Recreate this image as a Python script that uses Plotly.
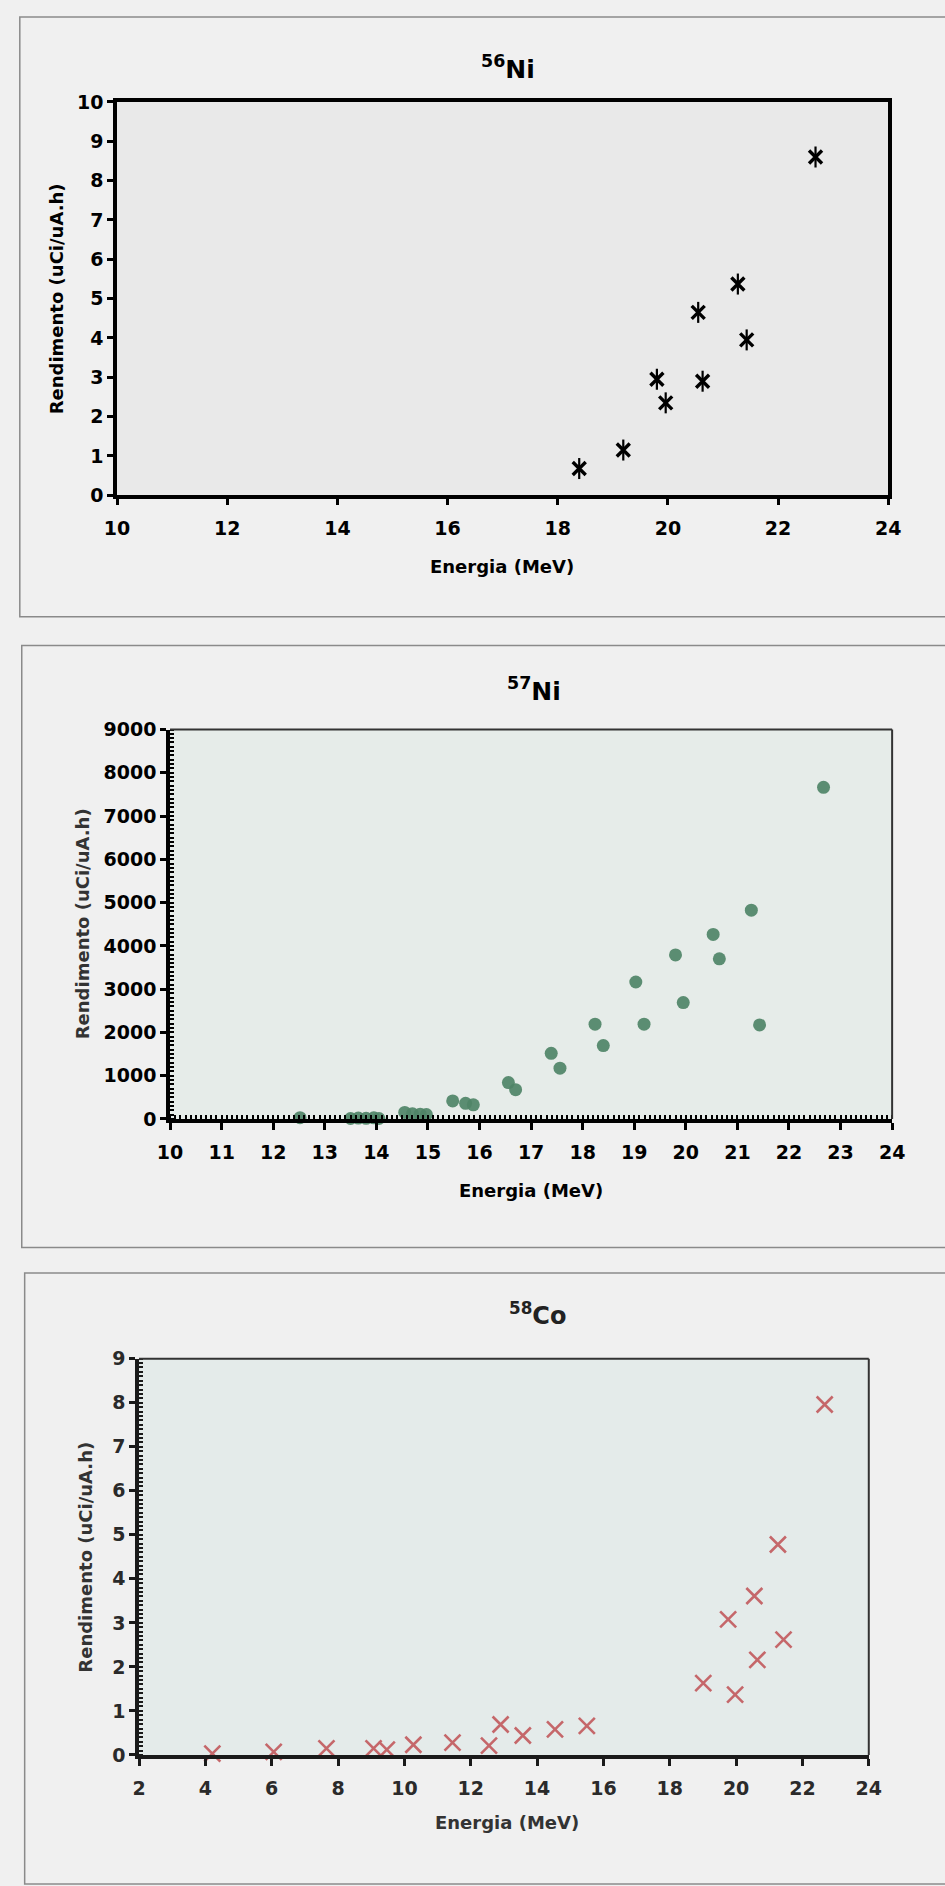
import plotly.graph_objects as go

# ---------------- data ----------------
energia_56 = [18.39, 19.19, 19.80, 19.96, 20.55, 20.63, 21.27, 21.43, 22.68]
rend_56 = [0.68, 1.15, 2.95, 2.35, 4.65, 2.90, 5.37, 3.95, 8.60]

energia_57 = [12.52, 13.50, 13.65, 13.80, 13.95, 14.05, 14.55, 14.70, 14.85, 14.97,
              15.48, 15.73, 15.88, 16.56, 16.70, 17.39, 17.56, 18.24, 18.40, 19.03,
              19.19, 19.80, 19.95, 20.53, 20.65, 21.27, 21.43, 22.67]
rend_57 = [30, 10, 20, 15, 25, 10, 150, 120, 110, 100,
           415, 360, 325, 840, 676, 1515, 1172, 2190, 1695, 3165,
           2190, 3790, 2690, 4265, 3700, 4824, 2173, 7665]

energia_58 = [4.21, 6.06, 7.65, 9.07, 9.47, 10.27, 11.45, 12.55, 12.90, 13.57,
              14.54, 15.50, 19.01, 19.76, 19.97, 20.55, 20.64, 21.26, 21.43, 22.67]
rend_58 = [0.03, 0.07, 0.15, 0.15, 0.12, 0.23, 0.28, 0.21, 0.69, 0.44,
           0.58, 0.66, 1.63, 3.08, 1.37, 3.61, 2.16, 4.78, 2.62, 7.96]

titles = ["<sup>56</sup>Ni", "<sup>57</sup>Ni", "<sup>58</sup>Co"]
x_title = "Energia (MeV)"
y_title = "Rendimento (uCi/uA.h)"

W, H = 945, 1886
FONT = "DejaVu Sans"


def px(x):
    return x / W


def py(y):
    return 1 - y / H


fig = go.Figure()

# plot-area pixel boxes (left, right, top, bottom)
boxes = [
    (107, 900, 92, 490),
    (161.5, 904, 727, 1121),
    (129.6, 880, 1363.6, 1764.5),
]

# Excel-style "*" marker: an X plus a vertical stroke
fig.add_trace(go.Scatter(
    x=energia_56, y=rend_56, mode="markers", xaxis="x", yaxis="y",
    marker=dict(symbol="x-thin-open", size=13, color="black",
                line=dict(color="black", width=3.4)),
    cliponaxis=False, showlegend=False))
fig.add_trace(go.Scatter(
    x=energia_56, y=rend_56, mode="markers", xaxis="x", yaxis="y",
    marker=dict(symbol="line-ns-open", size=15, color="black",
                line=dict(color="black", width=2.2)),
    cliponaxis=False, showlegend=False, hoverinfo="skip"))

fig.add_trace(go.Scatter(
    x=energia_57, y=rend_57, mode="markers", xaxis="x2", yaxis="y2",
    marker=dict(symbol="circle", size=13, color="#4f8467", opacity=0.92,
                line=dict(width=0)),
    cliponaxis=False, showlegend=False))

fig.add_trace(go.Scatter(
    x=energia_58, y=rend_58, mode="markers", xaxis="x3", yaxis="y3",
    marker=dict(symbol="x-thin-open", size=16, color="#c5676a",
                line=dict(color="#c5676a", width=2.6)),
    cliponaxis=False, showlegend=False))


def tf(size, color):
    return dict(family=FONT, size=size, color=color, weight="bold")


layout = dict(
    width=W, height=H,
    margin=dict(l=0, r=0, t=0, b=0),
    paper_bgcolor="#f0f0f0",
    plot_bgcolor="rgba(0,0,0,0)",
    font=dict(family=FONT, color="black"),
    showlegend=False,
)

# Chart 1 axes
l, r, t, b = boxes[0]
layout["xaxis"] = dict(domain=[px(l), px(r)], anchor="y", range=[10, 24], dtick=2,
                       showgrid=False, zeroline=False, showline=True, linewidth=3.5,
                       linecolor="black", mirror=True, ticks="outside", ticklen=6,
                       tickwidth=3, tickcolor="black", tickfont=tf(19, "black"),
                       ticklabelstandoff=7)
layout["yaxis"] = dict(domain=[py(b), py(t)], anchor="x", range=[0, 10], dtick=1,
                       showgrid=False, zeroline=False, showline=True, linewidth=3.5,
                       linecolor="black", mirror=True, ticks="outside", ticklen=6,
                       tickwidth=3, tickcolor="black", tickfont=tf(19, "black"))

# Chart 2 axes
l, r, t, b = boxes[1]
layout["xaxis2"] = dict(domain=[px(l), px(r)], anchor="y2", range=[10, 24], dtick=1,
                        showgrid=False, zeroline=False, showline=True, linewidth=3.5,
                        linecolor="black", ticks="outside", ticklen=7, tickwidth=3,
                        tickcolor="black", tickfont=tf(19, "black"),
                        ticklabelstandoff=7,
                        minor=dict(dtick=0.1, ticks="inside", ticklen=4, tickwidth=2,
                                   tickcolor="black", showgrid=False))
layout["yaxis2"] = dict(domain=[py(b), py(t)], anchor="x2", range=[0, 9000], dtick=1000,
                        showgrid=False, zeroline=False, showline=True, linewidth=3.5,
                        linecolor="black", ticks="outside", ticklen=6, tickwidth=3,
                        tickcolor="black", tickfont=tf(19, "black"),
                        minor=dict(dtick=100, ticks="inside", ticklen=4, tickwidth=2,
                                   tickcolor="black", showgrid=False))

# Chart 3 axes
l, r, t, b = boxes[2]
layout["xaxis3"] = dict(domain=[px(l), px(r)], anchor="y3", range=[2, 24], dtick=2,
                        showgrid=False, zeroline=False, showline=True, linewidth=3.5,
                        linecolor="#1a1a1a", ticks="outside", ticklen=7, tickwidth=3,
                        tickcolor="#1a1a1a", tickfont=tf(19, "#2a2a2a"),
                        ticklabelstandoff=7)
layout["yaxis3"] = dict(domain=[py(b), py(t)], anchor="x3", range=[0, 9], dtick=1,
                        showgrid=False, zeroline=False, showline=True, linewidth=3.5,
                        linecolor="#1a1a1a", ticks="outside", ticklen=6, tickwidth=3,
                        tickcolor="#1a1a1a", tickfont=tf(19, "#2a2a2a"),
                        minor=dict(dtick=0.1, ticks="inside", ticklen=4, tickwidth=2,
                                   tickcolor="#1a1a1a", showgrid=False))

fig.update_layout(**layout)

# plot area backgrounds
bg_colors = ["#e9e9e9", "#e6ece9", "#e4ebea"]
for i, col in enumerate(bg_colors):
    s = "" if i == 0 else str(i + 1)
    fig.add_shape(type="rect", xref=f"x{s} domain", yref=f"y{s} domain",
                  x0=0, x1=1, y0=0, y1=1, fillcolor=col, line=dict(width=0),
                  layer="below")

# thin top/right borders for charts 2 and 3
for s in ["2", "3"]:
    fig.add_shape(type="line", xref=f"x{s} domain", yref=f"y{s} domain",
                  x0=0, x1=1, y0=1, y1=1, line=dict(color="#333333", width=2))
    fig.add_shape(type="line", xref=f"x{s} domain", yref=f"y{s} domain",
                  x0=1, x1=1, y0=0, y1=1, line=dict(color="#333333", width=2))

# panel frames (pixel coordinates)
panels = [(7, 6, 960, 613), (9, 642, 960, 1251), (12, 1277, 960, 1895)]
for x0, y0, x1, y1 in panels:
    fig.add_shape(type="rect", xref="paper", yref="paper",
                  x0=px(x0), x1=px(x1), y0=py(y1), y1=py(y0),
                  line=dict(color="#8a8a8a", width=1.5), fillcolor="rgba(0,0,0,0)",
                  layer="below")

# titles
title_pos = [(509, 57, 25, "black"), (536, 687, 25, "black"), (539, 1318, 24, "#222")]
for (x, y, sz, c), txt in zip(title_pos, titles):
    fig.add_annotation(text=f"<b>{txt}</b>", x=px(x), y=py(y), xref="paper", yref="paper",
                       showarrow=False, font=dict(family=FONT, size=sz, color=c),
                       xanchor="center", yanchor="middle")

# axis titles
xt_pos = [(503, 562, "black"), (533, 1193, "black"), (508, 1833, "#333")]
yt_pos = [(45, 291, "black"), (71, 924, "#333"), (75, 1564, "#333")]
for x, y, c in xt_pos:
    fig.add_annotation(text=f"<b>{x_title}</b>", x=px(x), y=py(y), xref="paper", yref="paper",
                       showarrow=False, font=dict(family=FONT, size=18, color=c),
                       xanchor="center", yanchor="middle")
for x, y, c in yt_pos:
    fig.add_annotation(text=f"<b>{y_title}</b>", x=px(x), y=py(y), xref="paper", yref="paper",
                       showarrow=False, textangle=-90, font=dict(family=FONT, size=18, color=c),
                       xanchor="center", yanchor="middle")

fig.write_html("out.html")
